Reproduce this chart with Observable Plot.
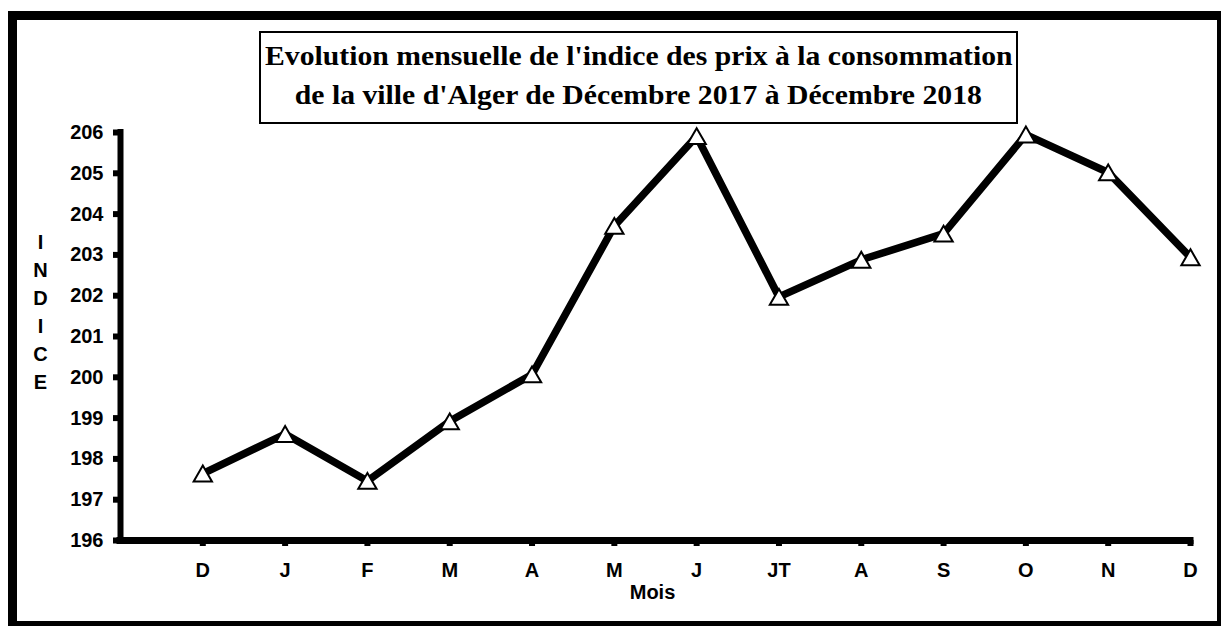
<!DOCTYPE html>
<html>
<head>
<meta charset="utf-8">
<script src="https://cdn.jsdelivr.net/npm/d3@7"></script>
<script src="https://cdn.jsdelivr.net/npm/@observablehq/plot@0.6"></script>
<style>
  html, body { margin: 0; padding: 0; background: white; overflow: hidden; }
  body { position: relative; width: 1221px; height: 626px; }
  #chart { position: absolute; left: 0; top: 0; }
  #border {
    position: absolute; left: 8px; top: 11px; width: 1218px; height: 619px;
    border: 9px solid black; box-sizing: border-box; pointer-events: none;
  }
  #title {
    position: absolute; left: 259px; top: 31px; width: 759px; height: 93px;
    border: 2px solid black; box-sizing: border-box; background: white;
    font-family: "Liberation Serif", "Times New Roman", serif; font-weight: bold;
    font-size: 27px; line-height: 39px; text-align: center; padding-top: 4px;
    color: black; white-space: nowrap;
  }
  #title span { display: inline-block; transform: scaleX(1.1); transform-origin: center; }
</style>
</head>
<body>
<div id="chart"></div>
<div id="border"></div>
<div id="title"><span>Evolution mensuelle de l'indice des prix à la consommation</span><br><span>de la ville d'Alger de Décembre 2017 à Décembre 2018</span></div>
<script>
const months = ["D", "J", "F", "M", "A", "M", "J", "JT", "A", "S", "O", "N", "D"];
const indice = [197.64, 198.61, 197.46, 198.92, 200.07, 203.71, 205.91, 201.97, 202.88, 203.52, 205.95, 205.02, 202.94];
const yTicks = [196, 197, 198, 199, 200, 201, 202, 203, 204, 205, 206];
const yLabel = "INDICE";
const xLabel = "Mois";

const data = months.map((m, k) => ({i: k + 1, month: m, v: indice[k]}));
const xTicks = data.map(d => d.i);

const chart = Plot.plot({
  width: 1221,
  height: 626,
  marginLeft: 120,
  marginRight: 31,
  marginTop: 132,
  marginBottom: 86,
  style: {fontFamily: "'Liberation Sans', Arial, sans-serif", fontSize: "20px", fontWeight: "bold", color: "black", background: "white"},
  x: {domain: [0, 13], axis: null},
  y: {domain: [196, 206], axis: null},
  marks: [
    Plot.axisY(yTicks, {tickSize: 7, tickPadding: 10, strokeWidth: 6, label: null, tickFormat: d => String(d)}),
    Plot.axisX(xTicks, {tickSize: 6, tickPadding: 16, strokeWidth: 6, label: null, tickFormat: i => months[i - 1]}),
    Plot.ruleX([0], {stroke: "black", strokeWidth: 6, strokeLinecap: "square"}),
    Plot.ruleY([196], {stroke: "black", strokeWidth: 7, strokeLinecap: "square"}),
    Plot.line(data, {x: "i", y: "v", stroke: "black", strokeWidth: 7.5, strokeLinejoin: "miter"}),
    Plot.dot(data, {x: "i", y: "v", symbol: "triangle", r: 6.8, fill: "white", stroke: "black", strokeWidth: 2, dy: 2.6}),
    Plot.text([xLabel], {frameAnchor: "bottom", dy: 52, dx: -3, lineAnchor: "middle", fill: "black"}),
    Plot.text([yLabel.split("").join("\n")], {frameAnchor: "left", dx: -80, dy: -26, textAnchor: "middle", lineAnchor: "middle", lineHeight: 1.4, fontSize: 20, fill: "black"})
  ]
});
document.getElementById("chart").appendChild(chart);
</script>
</body>
</html>
